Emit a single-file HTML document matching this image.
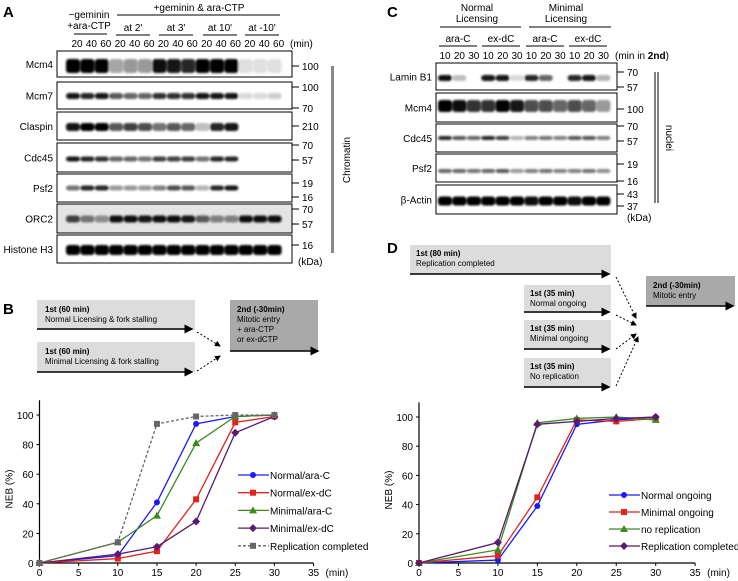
<!DOCTYPE html>
<html><head><meta charset="utf-8"><style>
body{margin:0;background:#fff}
svg{display:block;font-family:"Liberation Sans",sans-serif}
</style></head><body>
<svg id="fig" width="738" height="581" viewBox="0 0 738 581">
<defs>
<filter id="bl" x="-20%" y="-100%" width="140%" height="300%"><feGaussianBlur stdDeviation="1.1"/></filter>
<marker id="ah" markerWidth="6" markerHeight="6" refX="5" refY="3" orient="auto"><path d="M0,0 L6,3 L0,6 z" fill="#000"/></marker>
</defs>
<g id="panelA"></g>
<g id="panelC"></g>
<g id="diagB"></g>
<g id="diagD"></g>
<g id="chartB"></g>
<g id="chartD"></g>
</svg>
<script>
const NS="http://www.w3.org/2000/svg";
// ---- Chart B data ----
const xValsB=[0,10,15,20,25,30];
const seriesNamesB=["Normal/ara-C","Normal/ex-dC","Minimal/ara-C","Minimal/ex-dC","Replication completed"];
const normalAraC=[0,5,41,94,99,100];
const normalExDC=[0,3,8,43,95,99];
const minimalAraC=[0,14,32,81,99,100];
const minimalExDC=[0,6,11,28,88,99];
const replCompletedB=[0,14,94,99,100,100];
// ---- Chart D data ----
const xValsD=[0,10,15,20,25,30];
const seriesNamesD=["Normal ongoing","Minimal ongoing","no replication","Replication completed"];
const normalOngoing=[0,2,39,95,98,100];
const minimalOngoing=[0,5,45,98,97,99];
const noReplication=[0,9,96,99,100,98];
const replCompletedD=[0,14,95,97,99,100];
const xTicks=[0,5,10,15,20,25,30,35];
const yTicks=[0,20,40,60,80,100];

function el(parent,tag,attrs,text){const e=document.createElementNS(NS,tag);for(const k in attrs)e.setAttribute(k,attrs[k]);if(text!==undefined)e.textContent=text;parent.appendChild(e);return e;}
function txt(p,x,y,s,opt){opt=opt||{};const t=el(p,"text",{x:x,y:y,"font-size":opt.fs||10,"text-anchor":opt.a||"start",fill:opt.c||"#000","font-weight":opt.b?"bold":"normal"},s);if(opt.tr)t.setAttribute("transform",opt.tr);return t;}
function line(p,x1,y1,x2,y2,o){o=o||{};const l=el(p,"line",{x1:x1,y1:y1,x2:x2,y2:y2,stroke:o.c||"#000","stroke-width":o.w||1});if(o.d)l.setAttribute("stroke-dasharray",o.d);if(o.m)l.setAttribute("marker-end","url(#ah)");return l;}

// ---------- blots ----------
function blot(g,x0,x1,rows,lanes,bw){
 rows.forEach(r=>{
  const rg=el(g,"g",{});
  
  
  el(rg,"rect",{x:x0,y:r.y0,width:x1-x0,height:r.y1-r.y0,fill:r.bg||"#fff",stroke:"#000","stroke-width":1});
  const bg=el(rg,"g",{filter:"url(#bl)"});
  r.v.forEach((v,i)=>{if(v<=0)return;const c=Math.round(255*(1-v));
    el(bg,"rect",{x:lanes[i]-bw/2,y:r.by-r.bh/2,width:bw,height:r.bh,rx:3,fill:`rgb(${c},${c},${c})`});});
  txt(g,x0-4,(r.y0+r.y1)/2+4,r.name,{a:"end",n:"row-label"});
 });
}
// Panel A
(function(){
 const g=document.getElementById("panelA");
 txt(g,3,17,"A",{fs:15,b:1,n:"panel-label-a"});
 const lanes=[];for(let i=0;i<15;i++)lanes.push(73+14.4*i);
 const rows=[
 {name:"Mcm4",y0:51,y1:77,by:66,bh:14,v:[1,1,1,.35,.4,.4,.95,.9,.85,1,1,1,.12,.12,.12]},
 {name:"Mcm7",y0:82,y1:109,by:96,bh:6,v:[.9,.85,.9,.65,.6,.6,.8,.8,.8,.9,.9,.9,.15,.15,.2]},
 {name:"Claspin",y0:112,y1:140,by:127,bh:8,v:[.9,1,1,.65,.75,.7,.55,.65,.6,.25,.85,.9,0,0,0]},
 {name:"Cdc45",y0:143,y1:172,by:159,bh:5,v:[.9,.85,.8,.6,.6,.55,.75,.75,.75,.55,.85,.85,0,0,0]},
 {name:"Psf2",y0:174,y1:202,by:188,bh:5,v:[.55,.85,.85,.4,.4,.4,.5,.7,.65,.3,.85,.9,0,0,0]},
 {name:"ORC2",y0:204,y1:233,by:219,bh:7,bg:"#e4e4e4",v:[.75,.55,.45,.95,.95,.9,.95,.95,.9,.65,.5,.5,.95,.95,.95]},
 {name:"Histone H3",y0:235,y1:263,by:250,bh:10,v:[1,1,1,1,1,1,1,1,1,1,1,1,1,1,1]}];
 blot(g,57,292,rows,lanes,14);
 const kda=[[66,"100"],[87,"100"],[108,"70"],[126,"210"],[145,"70"],[160,"57"],[183,"19"],[197,"16"],[209,"70"],[224,"57"],[245,"16"]];
 kda.forEach(k=>{line(g,292,k[0],299,k[0]);txt(g,302,k[0]+4,k[1],{n:"kda-marker"});});
 txt(g,298,265,"(kDa)",{n:"kda-unit"});
 el(g,"rect",{x:331,y:66,width:3,height:187,fill:"#888"});
 txt(g,350,160,"Chromatin",{a:"middle",tr:"rotate(-90 350 160)",n:"chromatin-label"});
 const times=["20","40","60"];
 lanes.forEach((x,i)=>txt(g,x+4,47,times[i%3],{a:"middle",n:"lane-time"}));
 txt(g,290,47,"(min)",{n:"min-unit"});
 txt(g,89,18,"−geminin",{a:"middle"});txt(g,89,29,"+ara-CTP",{a:"middle"});
 line(g,74,34,107,34);
 txt(g,199,11,"+geminin & ara-CTP",{a:"middle"});line(g,117,15,280,15);
 [["at 2'",133],["at 3'",176],["at 10'",220],["at -10'",262]].forEach(a=>{txt(g,a[1],31,a[0],{a:"middle"});line(g,a[1]-17,35,a[1]+17,35);});
})();
// Panel C
(function(){
 const g=document.getElementById("panelC");
 txt(g,387,17,"C",{fs:15,b:1,n:"panel-label-c"});
 const lanes=[];for(let i=0;i<12;i++)lanes.push(445+14.4*i);
 const rows=[
 {name:"Lamin B1",y0:63,y1:90,by:78,bh:6,v:[.95,.25,0,.9,.9,.15,.85,.6,0,.85,.9,.3]},
 {name:"Mcm4",y0:93,y1:122,by:106,bh:12,v:[1,.95,.8,.8,1,.9,.7,.7,.6,.7,.6,.4]},
 {name:"Cdc45",y0:124,y1:152,by:138,bh:4,v:[.85,.65,.6,.85,.75,.3,.5,.55,.5,.65,.65,.5]},
 {name:"Psf2",y0:154,y1:182,by:171,bh:4,v:[.6,.6,.55,.6,.65,.4,.5,.55,.5,.5,.55,.45]},
 {name:"β-Actin",y0:185,y1:214,by:201,bh:9,v:[1,1,1,1,1,1,.95,1,1,.95,1,1]}];
 blot(g,436,617,rows,lanes,14);
 const kda=[[72,"70"],[87,"57"],[109,"100"],[126,"70"],[141,"57"],[164,"19"],[181,"16"],[194,"43"],[206,"37"]];
 kda.forEach(k=>{line(g,617,k[0],624,k[0]);txt(g,627,k[0]+4,k[1],{n:"kda-marker"});});
 txt(g,627,221,"(kDa)",{n:"kda-unit"});
 line(g,655,72,655,203);line(g,658,72,658,203);
 txt(g,666,138,"nuclei",{a:"middle",tr:"rotate(90 666 138)",n:"nuclei-label"});
 const t=["10","20","30"];
 lanes.forEach((x,i)=>txt(g,x,59,t[i%3],{a:"middle",n:"lane-time"}));
 const m=txt(g,615,59,"(min in ",{n:"min-unit"});const b=el(m,"tspan",{"font-weight":"bold"},"2nd");m.appendChild(document.createTextNode(")"));
 txt(g,477,11,"Normal",{a:"middle"});txt(g,477,22,"Licensing",{a:"middle"});line(g,440,27,521,27);
 txt(g,566,11,"Minimal",{a:"middle"});txt(g,566,22,"Licensing",{a:"middle"});line(g,529,27,611,27);
 [["ara-C",458],["ex-dC",501],["ara-C",545],["ex-dC",588]].forEach(a=>{txt(g,a[1],42,a[0],{a:"middle"});line(g,a[1]-19,46,a[1]+19,46);});
})();
// Diagram B
(function(){
 const g=document.getElementById("diagB");
 txt(g,3,314,"B",{fs:15,b:1,n:"panel-label-b"});
 el(g,"rect",{x:37,y:300,width:158,height:30,fill:"#dcdcdc"});
 txt(g,45,312,"1st (60 min)",{fs:8,b:1});txt(g,45,322,"Normal Licensing & fork stalling",{fs:8});
 line(g,37,329,192,329,{w:1.5,m:1});
 el(g,"rect",{x:37,y:342,width:158,height:30,fill:"#dcdcdc"});
 txt(g,45,354,"1st (60 min)",{fs:8,b:1});txt(g,45,364,"Minimal Licensing & fork stalling",{fs:8});
 line(g,37,372,192,372,{w:1.5,m:1});
 el(g,"rect",{x:230,y:300,width:88,height:51,fill:"#a9a9a9"});
 txt(g,237,312,"2nd (-30min)",{fs:8,b:1});txt(g,237,322,"Mitotic entry",{fs:8});txt(g,237,332,"+ ara-CTP",{fs:8});txt(g,237,342,"or ex-dCTP",{fs:8});
 line(g,230,351,318,351,{w:1.5,m:1});
 line(g,197,332,220,346,{d:"2,2",m:1});line(g,197,371,220,356,{d:"2,2",m:1});
})();
// Diagram D
(function(){
 const g=document.getElementById("diagD");
 txt(g,387,253,"D",{fs:15,b:1,n:"panel-label-d"});
 const boxes=[[410,245,"1st (80 min)","Replication completed",274],[524,285,"1st (35 min)","Normal ongoing",312],[524,320,"1st (35 min)","Minimal ongoing",349],[524,358,"1st (35 min)","No replication",387]];
 boxes.forEach(b=>{el(g,"rect",{x:b[0],y:b[1],width:611-b[0],height:b[4]-b[1]+1,fill:"#dcdcdc"});
  txt(g,b[0]+6,b[1]+11,b[2],{fs:8,b:1});txt(g,b[0]+6,b[1]+21,b[3],{fs:8});line(g,b[0],b[4],609,b[4],{w:1.5,m:1});});
 el(g,"rect",{x:646,y:276,width:89,height:30,fill:"#a9a9a9"});
 txt(g,653,288,"2nd (-30min)",{fs:8,b:1});txt(g,653,298,"Mitotic entry",{fs:8});
 line(g,646,306,733,306,{w:1.5,m:1});
 line(g,616,277,636,318,{d:"2,2",m:1});line(g,616,315,636,325,{d:"2,2",m:1});
 line(g,616,349,636,334,{d:"2,2",m:1});line(g,616,386,638,337,{d:"2,2",m:1});
})();
// ---------- line charts ----------
function marker(g,shape,x,y,c){let m;
 if(shape==="circle")m=el(g,"circle",{cx:x,cy:y,r:3,fill:c});
 else if(shape==="square")m=el(g,"rect",{x:x-3,y:y-3,width:6,height:6,fill:c});
 else if(shape==="triangle")m=el(g,"path",{d:`M${x},${y-4}L${x+4},${y+3}L${x-4},${y+3}Z`,fill:c});
 else m=el(g,"path",{d:`M${x},${y-4}L${x+4},${y}L${x},${y+4}L${x-4},${y}Z`,fill:c});
 return m;}
function chart(gid,x0px,xs,y0px,ys,xv,series,legX,legY0,legDy){
 const g=document.getElementById(gid);
 const X=v=>x0px+v*xs, Y=v=>y0px-v*ys;
 line(g,X(0),Y(0),X(35),Y(0),{w:1.2});line(g,X(0),Y(0),X(0),Y(110),{w:1.2});
 xTicks.forEach(t=>{line(g,X(t),Y(0),X(t),Y(0)+3);txt(g,X(t),Y(0)+13,String(t),{a:"middle",n:"x-tick-label"});});
 yTicks.forEach(t=>{line(g,X(0)-3,Y(t),X(0),Y(t));txt(g,X(0)-6,Y(t)+4,String(t),{a:"end",n:"y-tick-label"});});
 txt(g,X(35)+12,Y(0)+13,"(min)",{n:"x-axis-unit"});
 const yl=(Y(50));txt(g,X(0)-27,yl,"NEB (%)",{a:"middle",tr:`rotate(-90 ${X(0)-27} ${yl})`,n:"y-axis-title"});
 series.forEach((s,si)=>{
  const sg=el(g,"g",{});
  
  
  const pts=s.data.map((v,i)=>X(xv[i])+","+Y(v)).join(" ");
  const pl=el(sg,"polyline",{points:pts,fill:"none",stroke:s.c,"stroke-width":1.3});
  if(s.dash)pl.setAttribute("stroke-dasharray","3,2");
  s.data.forEach((v,i)=>{const m=marker(sg,s.shape,X(xv[i]),Y(v),s.c);
   
   });
  const ly=legY0+si*legDy;
  const lg=el(g,"g",{});
  
  
  const ll=line(lg,legX,ly,legX+31,ly,{c:s.c,w:1.3});if(s.dash)ll.setAttribute("stroke-dasharray","3,2");
  marker(lg,s.shape,legX+15,ly,s.c);
  txt(lg,legX+32,ly+4,s.name,{n:"legend-label"});
 });
}
chart("chartB",39.5,7.83,563,1.48,xValsB,[
 {name:seriesNamesB[0],data:normalAraC,c:"#1a1aff",shape:"circle"},
 {name:seriesNamesB[1],data:normalExDC,c:"#e0241c",shape:"square"},
 {name:seriesNamesB[2],data:minimalAraC,c:"#3a8a1e",shape:"triangle"},
 {name:seriesNamesB[3],data:minimalExDC,c:"#5a1a6e",shape:"diamond"},
 {name:seriesNamesB[4],data:replCompletedB,c:"#666",shape:"square",dash:1}],238,475,17.7);
chart("chartD",419,7.89,563,1.46,xValsD,[
 {name:seriesNamesD[0],data:normalOngoing,c:"#1a1aff",shape:"circle"},
 {name:seriesNamesD[1],data:minimalOngoing,c:"#e0241c",shape:"square"},
 {name:seriesNamesD[2],data:noReplication,c:"#3a8a1e",shape:"triangle"},
 {name:seriesNamesD[3],data:replCompletedD,c:"#5a1a6e",shape:"diamond"}],609,495,17);
</script>
</body></html>
